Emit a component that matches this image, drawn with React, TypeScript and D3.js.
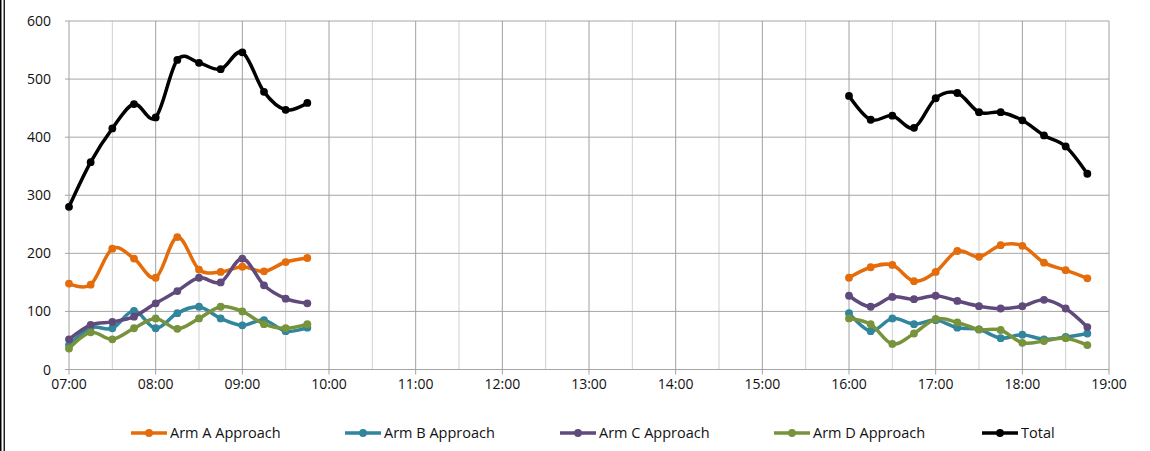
import React from "react";
import * as d3 from "d3";

const times: string[] = [
  "07:00", "07:15", "07:30", "07:45", "08:00", "08:15", "08:30", "08:45", "09:00", "09:15", "09:30", "09:45",
  "16:00", "16:15", "16:30", "16:45", "17:00", "17:15", "17:30", "17:45", "18:00", "18:15", "18:30", "18:45",
];

const armA: number[] = [148, 146, 208, 191, 158, 228, 172, 168, 177, 169, 185, 192, 158, 176, 180, 152, 168, 204, 194, 214, 213, 184, 171, 157];
const armB: number[] = [42, 72, 71, 101, 71, 97, 108, 88, 76, 85, 66, 72, 97, 66, 88, 78, 85, 72, 69, 54, 60, 52, 56, 62];
const armC: number[] = [52, 77, 82, 91, 114, 135, 158, 150, 191, 145, 122, 114, 127, 108, 125, 121, 127, 118, 109, 105, 109, 120, 105, 73];
const armD: number[] = [36, 64, 52, 71, 88, 70, 88, 108, 100, 78, 71, 78, 88, 78, 44, 62, 87, 81, 69, 68, 46, 49, 54, 42];
const total: number[] = [280, 357, 415, 457, 434, 533, 528, 517, 546, 478, 447, 459, 471, 430, 437, 416, 467, 476, 443, 443, 429, 403, 384, 337];

const seriesNames: string[] = ["Arm A Approach", "Arm B Approach", "Arm C Approach", "Arm D Approach", "Total"];
const seriesColors: string[] = ["#E46C0A", "#31859C", "#604A7B", "#77933C", "#000000"];
const seriesValues: number[][] = [armA, armB, armC, armD, total];

const xTickLabels: string[] = ["07:00", "08:00", "09:00", "10:00", "11:00", "12:00", "13:00", "14:00", "15:00", "16:00", "17:00", "18:00", "19:00"];
const yTicks: number[] = [0, 100, 200, 300, 400, 500, 600];

const toHours = (t: string) => {
  const [h, m] = t.split(":").map(Number);
  return h + m / 60;
};

export default function App() {
  const W = 1150, H = 451;
  const x = d3.scaleLinear().domain([7, 19]).range([69, 1109]);
  const y = d3.scaleLinear().domain([0, 600]).range([369.5, 21]);
  const font = "'Open Sans', 'Noto Sans', sans-serif";

  const hours = times.map(toHours);
  const segments = [hours.map((_, i) => i).filter((i) => hours[i] < 12), hours.map((_, i) => i).filter((i) => hours[i] >= 12)];

  const line = d3
    .line<[number, number]>()
    .x((d) => x(d[0]))
    .y((d) => y(d[1]))
    .curve(d3.curveCatmullRom.alpha(0));

  const halfHours = d3.range(7.5, 19, 1);
  const fullHours = xTickLabels.map(toHours);

  const legendX = [149, 363, 578, 792, 1000];

  return (
    <svg width={W} height={H} style={{ position: "absolute", left: 0, top: 0, background: "#fff" }} fontFamily={font}>
      <rect x={0} y={0} width={W} height={H} fill="#fff" />
      {/* left frame lines */}
      <rect x={0} y={0} width={1.5} height={H} fill="#000" />
      <rect x={3.5} y={0} width={1.5} height={H} fill="#222" />

      {/* minor vertical gridlines */}
      {halfHours.map((h) => (
        <line key={"m" + h} x1={x(h)} x2={x(h)} y1={y(600)} y2={y(0)} stroke="#d0d0d0" strokeWidth={1} />
      ))}
      {/* horizontal gridlines */}
      {yTicks.map((v) => (
        <line key={"h" + v} x1={x(7) - 4} x2={x(19)} y1={y(v)} y2={y(v)} stroke="#a6a6a6" strokeWidth={1} />
      ))}
      {/* major vertical gridlines */}
      {fullHours.map((h) => (
        <line key={"v" + h} x1={x(h)} x2={x(h)} y1={y(600)} y2={y(0) + 5} stroke="#a0a0a0" strokeWidth={1} />
      ))}

      {/* y labels */}
      {yTicks.map((v) => (
        <text key={"yl" + v} x={51} y={y(v) + 5} textAnchor="end" fontSize={14} fill="#111">
          {v}
        </text>
      ))}
      {/* x labels */}
      {xTickLabels.map((t) => (
        <text key={"xl" + t} x={x(toHours(t))} y={389} textAnchor="middle" fontSize={14} fill="#111">
          {t}
        </text>
      ))}

      {/* series */}
      {seriesValues.map((vals, si) => (
        <g key={"s" + si}>
          {segments.map((idx, gi) => (
            <path
              key={gi}
              d={line(idx.map((i) => [hours[i], vals[i]] as [number, number])) || ""}
              fill="none"
              stroke={seriesColors[si]}
              strokeWidth={3.5}
              strokeLinejoin="round"
              strokeLinecap="round"
            />
          ))}
          {vals.map((v, i) => (
            <circle key={i} cx={x(hours[i])} cy={y(v)} r={3.9} fill={seriesColors[si]} />
          ))}
        </g>
      ))}

      {/* legend */}
      {seriesNames.map((n, i) => (
        <g key={"lg" + n}>
          <line x1={legendX[i] - 18} x2={legendX[i] + 18} y1={433} y2={433} stroke={seriesColors[i]} strokeWidth={3.5} />
          <circle cx={legendX[i]} cy={433} r={3.9} fill={seriesColors[i]} />
          <text x={legendX[i] + 21} y={438} fontSize={14.5} fill="#111">
            {n}
          </text>
        </g>
      ))}
    </svg>
  );
}
